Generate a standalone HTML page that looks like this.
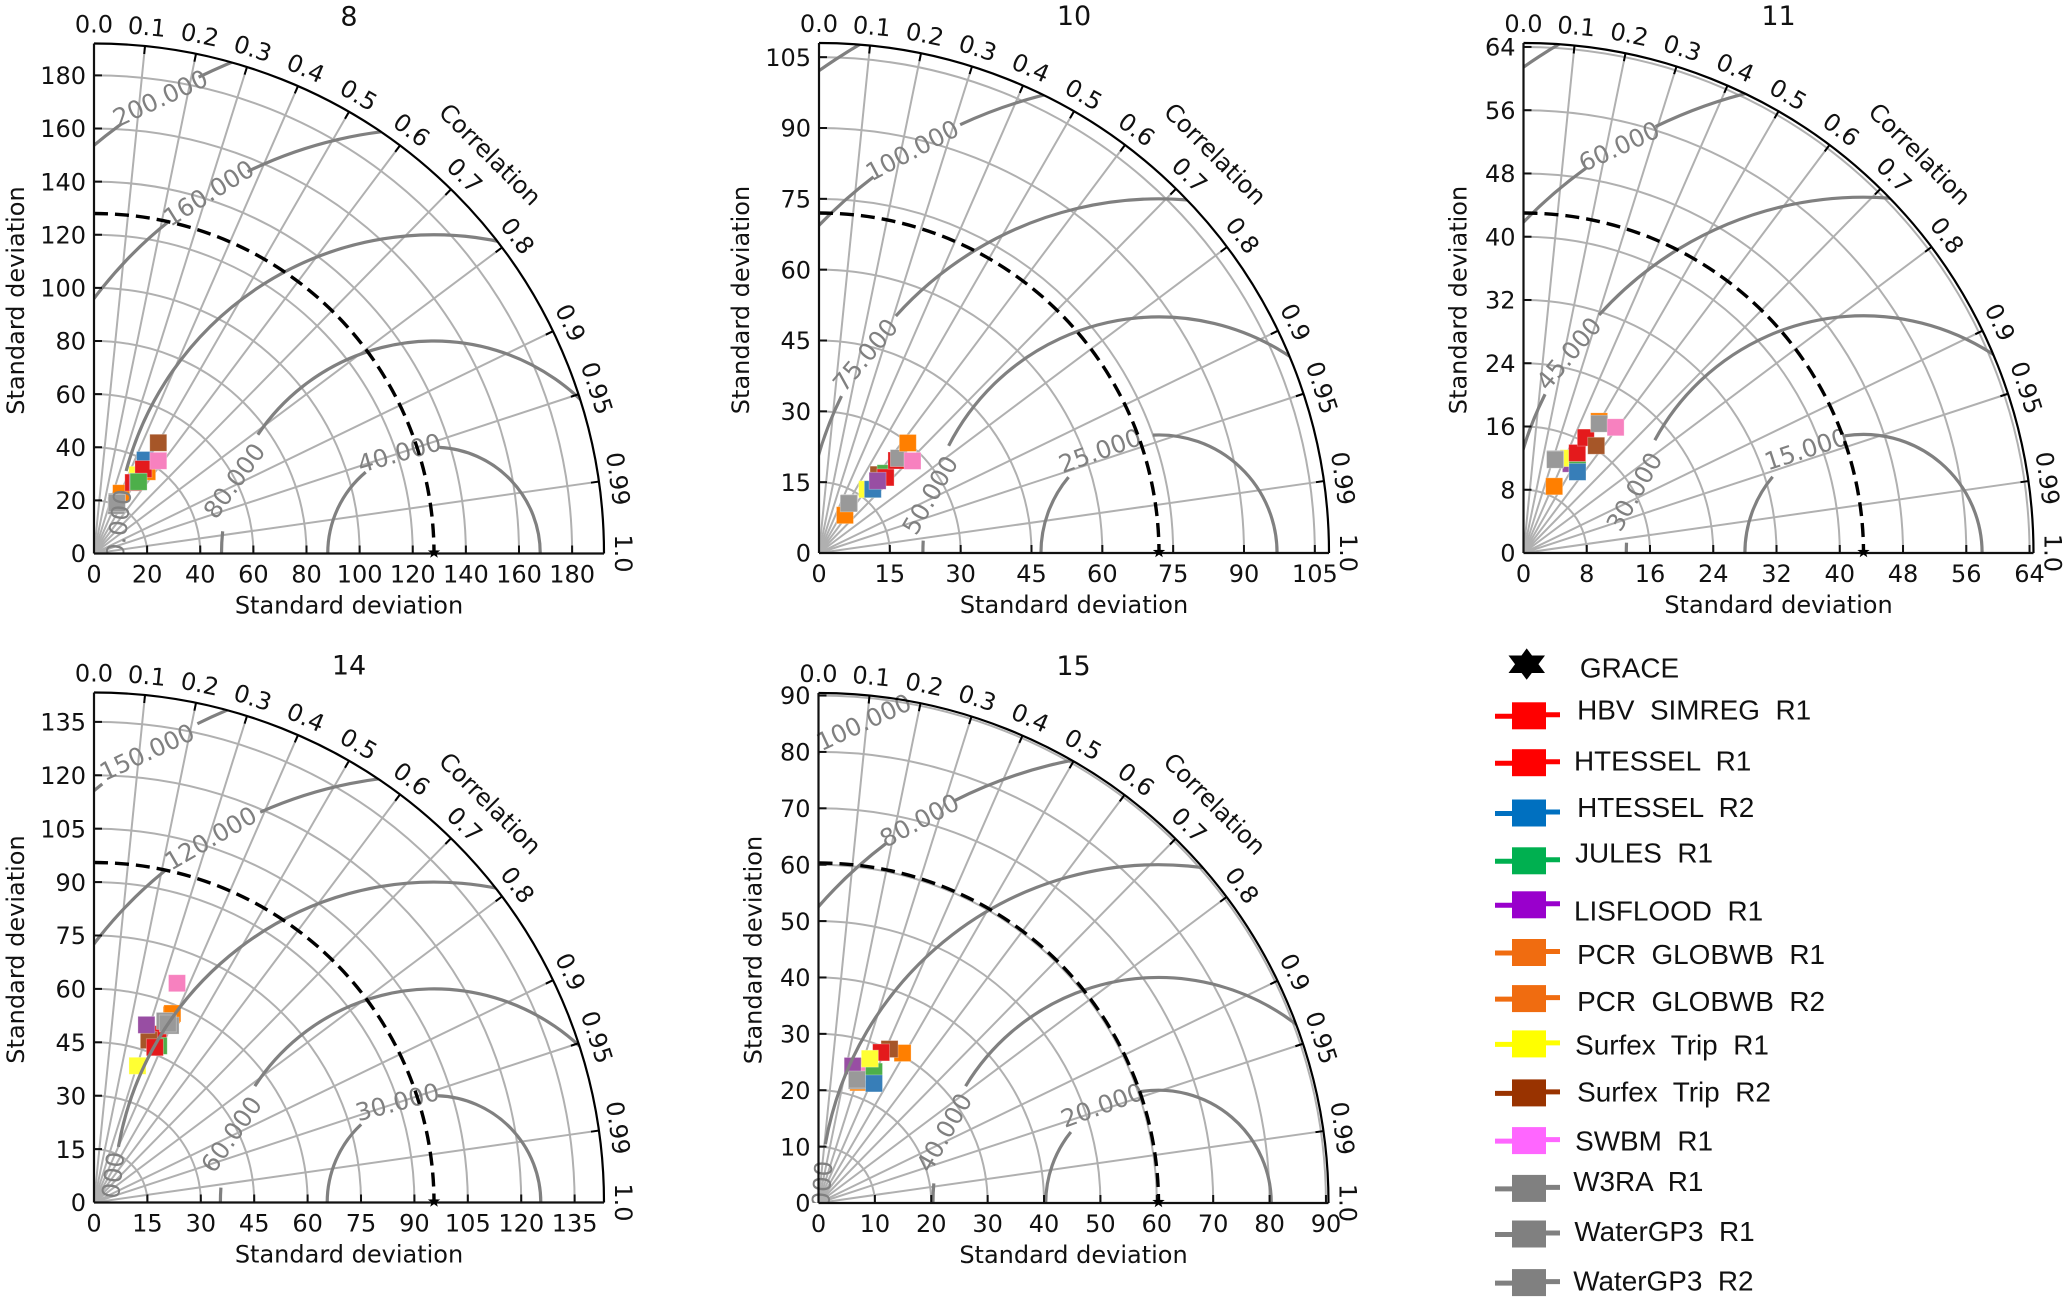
<!DOCTYPE html>
<html lang="en">
<head>
<meta charset="utf-8">
<title>Taylor diagrams</title>
<style>
html,body{margin:0;padding:0;background:#fff;}
svg{display:block;}
.t{font-family:"DejaVu Sans","Liberation Sans",sans-serif;fill:#111;}
.leg{font-family:"Liberation Sans",sans-serif;font-size:27.9px;fill:#111;white-space:pre;}
</style>
</head>
<body>
<svg id="root" xmlns="http://www.w3.org/2000/svg" width="2067" height="1297" viewBox="0 0 2067 1297">
<rect width="2067" height="1297" fill="#fff"/>
<g id="charts"></g>
<g>
  <g>
    <polygon points="1526.7,648.4 1545,673 1508.5,673" fill="#000"/>
    <polygon points="1526.7,679.8 1508.5,655.5 1545,655.5" fill="#000"/>
    <text class="leg" x="1579.9" y="677.7">GRACE</text>
  </g>
  <g>
    <path d="M1495 716.3H1512M1546 714.8H1560" stroke="#ff0000" stroke-width="5" fill="none"/>
    <rect x="1512" y="702.3" width="34" height="27" fill="#ff0000"/>
    <text class="leg" x="1577.1" y="719.6">HBV  SIMREG  R1</text>
  </g>
  <g>
    <path d="M1495 763.2H1512M1546 761.7H1560" stroke="#ff0000" stroke-width="5" fill="none"/>
    <rect x="1512" y="749.2" width="34" height="27" fill="#ff0000"/>
    <text class="leg" x="1574" y="770.7">HTESSEL  R1</text>
  </g>
  <g>
    <path d="M1495 813.5H1512M1546 812H1560" stroke="#0070c0" stroke-width="5" fill="none"/>
    <rect x="1512" y="799.5" width="34" height="27" fill="#0070c0"/>
    <text class="leg" x="1577.1" y="817.2">HTESSEL  R2</text>
  </g>
  <g>
    <path d="M1495 861.3H1512M1546 859.8H1560" stroke="#00b050" stroke-width="5" fill="none"/>
    <rect x="1512" y="847.3" width="34" height="27" fill="#00b050"/>
    <text class="leg" x="1575.1" y="862.5">JULES  R1</text>
  </g>
  <g>
    <path d="M1495 905.3H1512M1546 903.8H1560" stroke="#9900cc" stroke-width="5" fill="none"/>
    <rect x="1512" y="891.3" width="34" height="27" fill="#9900cc"/>
    <text class="leg" x="1574" y="920.7">LISFLOOD  R1</text>
  </g>
  <g>
    <path d="M1495 953H1512M1546 951.5H1560" stroke="#f06c10" stroke-width="5" fill="none"/>
    <rect x="1512" y="939" width="34" height="27" fill="#f06c10"/>
    <text class="leg" x="1577.1" y="963.8">PCR  GLOBWB  R1</text>
  </g>
  <g>
    <path d="M1495 999.1H1512M1546 997.6H1560" stroke="#f06c10" stroke-width="5" fill="none"/>
    <rect x="1512" y="985.1" width="34" height="27" fill="#f06c10"/>
    <text class="leg" x="1577.1" y="1010.8">PCR  GLOBWB  R2</text>
  </g>
  <g>
    <path d="M1495 1044.4H1512M1546 1042.9H1560" stroke="#ffff00" stroke-width="5" fill="none"/>
    <rect x="1512" y="1030.4" width="34" height="27" fill="#ffff00"/>
    <text class="leg" x="1575.1" y="1054.7">Surfex  Trip  R1</text>
  </g>
  <g>
    <path d="M1495 1093.4H1512M1546 1091.9H1560" stroke="#993300" stroke-width="5" fill="none"/>
    <rect x="1512" y="1079.4" width="34" height="27" fill="#993300"/>
    <text class="leg" x="1577.1" y="1101.7">Surfex  Trip  R2</text>
  </g>
  <g>
    <path d="M1495 1141.1H1512M1546 1139.6H1560" stroke="#ff66ff" stroke-width="5" fill="none"/>
    <rect x="1512" y="1127.1" width="34" height="27" fill="#ff66ff"/>
    <text class="leg" x="1575.1" y="1150.3">SWBM  R1</text>
  </g>
  <g>
    <path d="M1495 1188.9H1512M1546 1187.4H1560" stroke="#808080" stroke-width="5" fill="none"/>
    <rect x="1512" y="1174.9" width="34" height="27" fill="#808080"/>
    <text class="leg" x="1573.2" y="1190.9">W3RA  R1</text>
  </g>
  <g>
    <path d="M1495 1234.5H1512M1546 1233H1560" stroke="#808080" stroke-width="5" fill="none"/>
    <rect x="1512" y="1220.5" width="34" height="27" fill="#808080"/>
    <text class="leg" x="1574.4" y="1241.2">WaterGP3  R1</text>
  </g>
  <g>
    <path d="M1495 1283.1H1512M1546 1281.6H1560" stroke="#808080" stroke-width="5" fill="none"/>
    <rect x="1512" y="1269.1" width="34" height="27" fill="#808080"/>
    <text class="leg" x="1573.2" y="1290.6">WaterGP3  R2</text>
  </g>
</g>
</svg>
<script>
// ---------- shared data ----------
const seriesNames = ['HBV SIMREG R1','HTESSEL R1','HTESSEL R2','JULES R1','LISFLOOD R1','PCR GLOBWB R1','PCR GLOBWB R2','Surfex Trip R1','Surfex Trip R2','SWBM R1','W3RA R1','WaterGP3 R1','WaterGP3 R2'];
const correlationTicks = ['0.0','0.1','0.2','0.3','0.4','0.5','0.6','0.7','0.8','0.9','0.95','0.99','1.0'];

// ---------- panel 8 ----------
const ref8 = 128;
const max8 = 192;
const ticks8 = [0,20,40,60,80,100,120,140,160,180];
const std8 = [30.53,36.84,40.1,31.8,31.64,24.89,36.72,33.8,48.2,42.47,21.3,19.86,20.86];
const corr8 = [0.4848,0.505,0.479,0.528,0.5215,0.41,0.545,0.482,0.502,0.57,0.404,0.423,0.412];
const levels8 = [40,80,120,160,200];

// ---------- panel 10 ----------
const ref10 = 72;
const max10 = 108;
const ticks10 = [0,15,30,45,60,75,90,105];
const std10 = [25.55,21.33,17.67,22.01,19.69,9.71,29.94,16.92,20.84,27.79,12.38,26.26,12.25];
const corr10 = [0.642,0.661,0.645,0.641,0.63,0.566,0.628,0.603,0.605,0.7125,0.517,0.6436,0.514];
const levels10 = [25,50,75,100,125];

// ---------- panel 11 ----------
const ref11 = 43;
const max11 = 64.5;
const ticks11 = [0,8,16,24,32,40,48,56,64];
const std11 = [16.59,14.36,12.32,12.53,12.79,9.28,19.2,13.28,16.39,19.71,12.55,18.95,12.46];
const corr11 = [0.475,0.473,0.554,0.545,0.469,0.418,0.498,0.429,0.561,0.591,0.319,0.505,0.321];
const levels11 = [15,30,45,60,75];

// ---------- panel 14 ----------
const ref14 = 95.5;
const max14 = 143.25;
const ticks14 = [0,15,30,45,60,75,90,105,120,135];
const std14 = [46.83,50.61,50.15,47.61,52.02,57.03,57.48,40.29,48.13,65.86,54.74,54.15,54.39];
const corr14 = [0.365,0.356,0.349,0.382,0.283,0.382,0.383,0.303,0.32,0.354,0.3635,0.397,0.381];
const levels14 = [30,60,90,120,150];

// ---------- panel 15 ----------
const ref15 = 60.3;
const max15 = 90.45;
const ticks15 = [0,10,20,30,40,50,60,70,80,90];
const std15 = [28.92,25.19,23.38,25.3,25.05,22.53,30.49,27.17,30.07,23.98,22.84,22.74,22.95];
const corr15 = [0.384,0.278,0.421,0.389,0.242,0.313,0.489,0.335,0.419,0.284,0.298,0.299,0.298];
const levels15 = [20,40,60,80,100];

// ---------- layout and style (not data) ----------
const R = 510;
const markerColors = ['#e41a1c','#e41a1c','#377eb8','#4daf4a','#984ea3','#ff7f00','#ff7f00','#ffff33','#a65628','#f781bf','#999999','#999999','#999999'];
const panels = [
  {title:'8', ox:94, oy:553.5, ref:ref8, max:max8, ticks:ticks8, std:std8, corr:corr8, levels:levels8, ylabelDx:70,
   order:[5,6,2,7,1,0,4,3,8,9,10,11,12],
   gapFrom:[87,146,165,116,116.3], gapTo:[130,174,180,128.5,126], labelAt:[109,160,null,122,121], labelRot:[16,54,0,32,25],
   zero:[9.4,11,83]},
  {title:'10', ox:819, oy:553, ref:ref10, max:max10, ticks:ticks10, std:std10, corr:corr10, levels:levels10, ylabelDx:70,
   order:[5,7,8,3,1,2,4,0,10,11,12,6,9],
   gapFrom:[93,153,138,114.9,null], gapTo:[140,177,153.7,127.2,null], labelAt:[120,165.8,146,121.5,null], labelRot:[20,60,50,28,0],
   zero:null},
  {title:'11', ox:1523.5, oy:553, ref:ref11, max:max11, ticks:ticks11, std:std11, corr:corr11, levels:levels11, ylabelDx:57,
   order:[5,4,7,10,12,3,2,1,0,8,6,11,9],
   gapFrom:[99,151.6,138,116,null], gapTo:[140,177.5,153.5,125.8,null], labelAt:[119,165,145.9,121,null], labelRot:[18,60,50,25,0],
   zero:null},
  {title:'14', ox:94, oy:1202.5, ref:ref14, max:max14, ticks:ticks14, std:std14, corr:corr14, levels:levels14, ylabelDx:70,
   order:[5,6,2,1,3,8,0,4,7,9,10,11,12],
   gapFrom:[88,147,170,114,116.3], gapTo:[133,176,180,129,128.4], labelAt:[110,161.4,null,121.5,122.5], labelRot:[15,55,0,30,25],
   zero:[5,4.4,83]},
  {title:'15', ox:818.5, oy:1203, ref:ref15, max:max15, ticks:ticks15, std:std15, corr:corr15, levels:levels15, ylabelDx:57,
   order:[5,1,9,4,10,11,12,3,2,6,8,0,7],
   gapFrom:[99,148.8,170,117,100], gapTo:[141,175,180,127.2,127], labelAt:[120,161.8,null,122,121.5], labelRot:[20,60,0,28,25],
   zero:[0.53,1.28,86]}
];

const NS = 'http://www.w3.org/2000/svg';
const FS = 24;
const LFS = 24.5;
function make(tag, attrs, parent){
  const n = document.createElementNS(NS, tag);
  for (const k in attrs) n.setAttribute(k, attrs[k]);
  parent.appendChild(n);
  return n;
}
function slug(s){ return s.toLowerCase().replace(/[^a-z0-9]+/g,'-'); }

function drawPanel(p, idx, host){
  const k = R / p.max;
  const sx = x => p.ox + x * k;
  const sy = y => p.oy - y * k;
  const polarX = (s, c) => s * c;
  const polarY = (s, c) => s * Math.sqrt(Math.max(0, 1 - c * c));

  const g = make('g', {}, host);
  
  

  // clip to quarter disc
  const clip = make('clipPath', {id:'clip' + idx}, g);
  
  
  const clipPath = make('path', {d:`M${p.ox} ${p.oy}V${p.oy - R}A${R} ${R} 0 0 1 ${p.ox + R} ${p.oy}Z`}, clip);
  
  
  // clip for the zero label: cut off only below the x axis
  const zclip = make('clipPath', {id:'zclip' + idx}, g);
  
  
  const zrect = make('rect', {x:p.ox - 30, y:p.oy - 200, width:200, height:200}, zclip);
  
  

  // circular grid
  p.ticks.forEach(t => {
    if (t === 0) return;
    const r = t * k;
    const arc = make('path', {d:`M${p.ox} ${p.oy - r}A${r} ${r} 0 0 1 ${p.ox + r} ${p.oy}`, fill:'none', stroke:'#b0b0b0', 'stroke-width':2}, g);
    
    
  });
  // radial grid
  correlationTicks.forEach(lbl => {
    const c = parseFloat(lbl);
    if (c === 0 || c === 1) return;
    const line = make('line', {x1:sx(0), y1:sy(0), x2:sx(polarX(p.max,c)), y2:sy(polarY(p.max,c)), stroke:'#b0b0b0', 'stroke-width':2}, g);
    
    
  });

  // markers
  p.order.forEach(i => {
    const cx = sx(polarX(p.std[i], p.corr[i]));
    const cy = sy(polarY(p.std[i], p.corr[i]));
    const m = make('rect', {x:cx - 8.5, y:cy - 8.5, width:17, height:17, fill:markerColors[i], stroke:'#fff', 'stroke-opacity':0.35, 'stroke-width':0.8}, g);
    
    
  });

  // RMS contours
  const contourGroup = make('g', {'clip-path':`url(#clip${idx})`}, g);
  
  
  p.levels.forEach((L, j) => {
    const r = L * k;
    const pt = a => [sx(p.ref + L * Math.cos(a * Math.PI / 180)), sy(L * Math.sin(a * Math.PI / 180))];
    const seg = (a0, a1) => {
      const s = pt(a0), e = pt(a1);
      return `M${s[0]} ${s[1]}A${r} ${r} 0 0 0 ${e[0]} ${e[1]}`;
    };
    let d;
    if (p.gapFrom[j] === null) d = seg(0, 180);
    else d = seg(0, p.gapFrom[j]) + (p.gapTo[j] < 180 ? seg(p.gapTo[j], 180) : '');
    const arc = make('path', {d:d, fill:'none', stroke:'#808080', 'stroke-width':3.2}, contourGroup);
    
    
  });
  // contour labels
  p.levels.forEach((L, j) => {
    if (p.labelAt[j] === null) return;
    const a = p.labelAt[j] * Math.PI / 180;
    const lx = sx(p.ref + L * Math.cos(a));
    const ly = sy(L * Math.sin(a));
    const t = make('text', {class:'t', x:lx, y:ly, 'text-anchor':'middle', 'dominant-baseline':'central', 'font-size':LFS, style:'fill:#808080', transform:`rotate(${-p.labelRot[j]} ${lx} ${ly})`}, g);
    t.textContent = L.toFixed(3);
    
    
  });
  if (p.zero) {
    const lx = sx(p.zero[0]), ly = sy(p.zero[1]);
    const wrap = make('g', {'clip-path':`url(#zclip${idx})`}, g);
    
    
    const t = make('text', {class:'t', x:lx, y:ly, 'text-anchor':'middle', 'dominant-baseline':'central', 'font-size':LFS, style:'fill:#808080', transform:`rotate(${-p.zero[2]} ${lx} ${ly})`}, wrap);
    t.textContent = '0.000';
    
    
  }

  // reference std dashed arc
  const rr = p.ref * k;
  const dash = make('path', {d:`M${p.ox} ${p.oy - rr}A${rr} ${rr} 0 0 1 ${p.ox + rr} ${p.oy}`, fill:'none', stroke:'#000', 'stroke-width':3.4, 'stroke-dasharray':'14 7'}, g);
  
  

  // outer arc and axes
  const outer = make('path', {d:`M${p.ox} ${p.oy - R}A${R} ${R} 0 0 1 ${p.ox + R} ${p.oy}`, fill:'none', stroke:'#000', 'stroke-width':2.2}, g);
  
  
  const yAxis = make('line', {x1:p.ox, y1:p.oy, x2:p.ox, y2:p.oy - R, stroke:'#111', 'stroke-width':2.2}, g);
  
  
  const xAxis = make('line', {x1:p.ox, y1:p.oy, x2:p.ox + R, y2:p.oy, stroke:'#111', 'stroke-width':2.2}, g);
  
  

  // std ticks + labels
  p.ticks.forEach(t => {
    const px = sx(t), py = sy(t);
    const tb = make('line', {x1:px, y1:p.oy, x2:px, y2:p.oy - 8, stroke:'#111', 'stroke-width':2}, g);
    
    
    const tl = make('line', {x1:p.ox, y1:py, x2:p.ox + 8, y2:py, stroke:'#111', 'stroke-width':2}, g);
    
    
    const lb = make('text', {class:'t', x:px, y:p.oy + 29, 'text-anchor':'middle', 'font-size':FS}, g);
    lb.textContent = String(t);
    
    
    const ll = make('text', {class:'t', x:p.ox - 8, y:py + 8.7, 'text-anchor':'end', 'font-size':FS}, g);
    ll.textContent = String(t);
    
    
  });

  // correlation ticks + labels
  correlationTicks.forEach(lbl => {
    const c = parseFloat(lbl);
    const ux = c, uy = Math.sqrt(1 - c * c);
    if (c !== 0 && c !== 1) {
      const tk = make('line', {x1:p.ox + ux * R, y1:p.oy - uy * R, x2:p.ox + ux * (R - 8), y2:p.oy - uy * (R - 8), stroke:'#000', 'stroke-width':2}, g);
      
      
    }
    const lx = p.ox + ux * (R + 19), ly = p.oy - uy * (R + 19);
    const deg = 90 - Math.acos(c) * 180 / Math.PI;
    const t = make('text', {class:'t', x:lx, y:ly, 'text-anchor':'middle', 'dominant-baseline':'central', 'font-size':FS, transform:`rotate(${deg} ${lx} ${ly})`}, g);
    t.textContent = lbl;
    
    
  });

  // star for reference
  const pts = [];
  for (let i = 0; i < 10; i++) {
    const rad = i % 2 ? 2.6 : 6.5;
    const a = -Math.PI / 2 + i * Math.PI / 5;
    pts.push((sx(p.ref) + rad * Math.cos(a)) + ',' + (p.oy - 1 + rad * Math.sin(a)));
  }
  const star = make('polygon', {points:pts.join(' '), fill:'#000'}, g);
  
  

  // titles
  const title = make('text', {class:'t', x:p.ox + 255, y:p.oy - 528, 'text-anchor':'middle', 'font-size':27}, g);
  title.textContent = p.title;
  
  
  const xl = make('text', {class:'t', x:p.ox + 255, y:p.oy + 60, 'text-anchor':'middle', 'font-size':FS}, g);
  xl.textContent = 'Standard deviation';
  
  
  const yx = p.ox - p.ylabelDx, yy = p.oy - 253;
  const yl = make('text', {class:'t', x:yx, y:yy, 'text-anchor':'middle', 'font-size':FS, transform:`rotate(-90 ${yx} ${yy})`}, g);
  yl.textContent = 'Standard deviation';
  
  
  const cr = 562, ca = 45.2 * Math.PI / 180;
  const cx = p.ox + cr * Math.cos(ca), cy = p.oy - cr * Math.sin(ca);
  const cl = make('text', {class:'t', x:cx, y:cy, 'text-anchor':'middle', 'dominant-baseline':'central', 'font-size':FS, transform:`rotate(45 ${cx} ${cy})`}, g);
  cl.textContent = 'Correlation';
  
  
}

const host = document.getElementById('charts');
panels.forEach((p, i) => drawPanel(p, i, host));
</script>
</body>
</html>
